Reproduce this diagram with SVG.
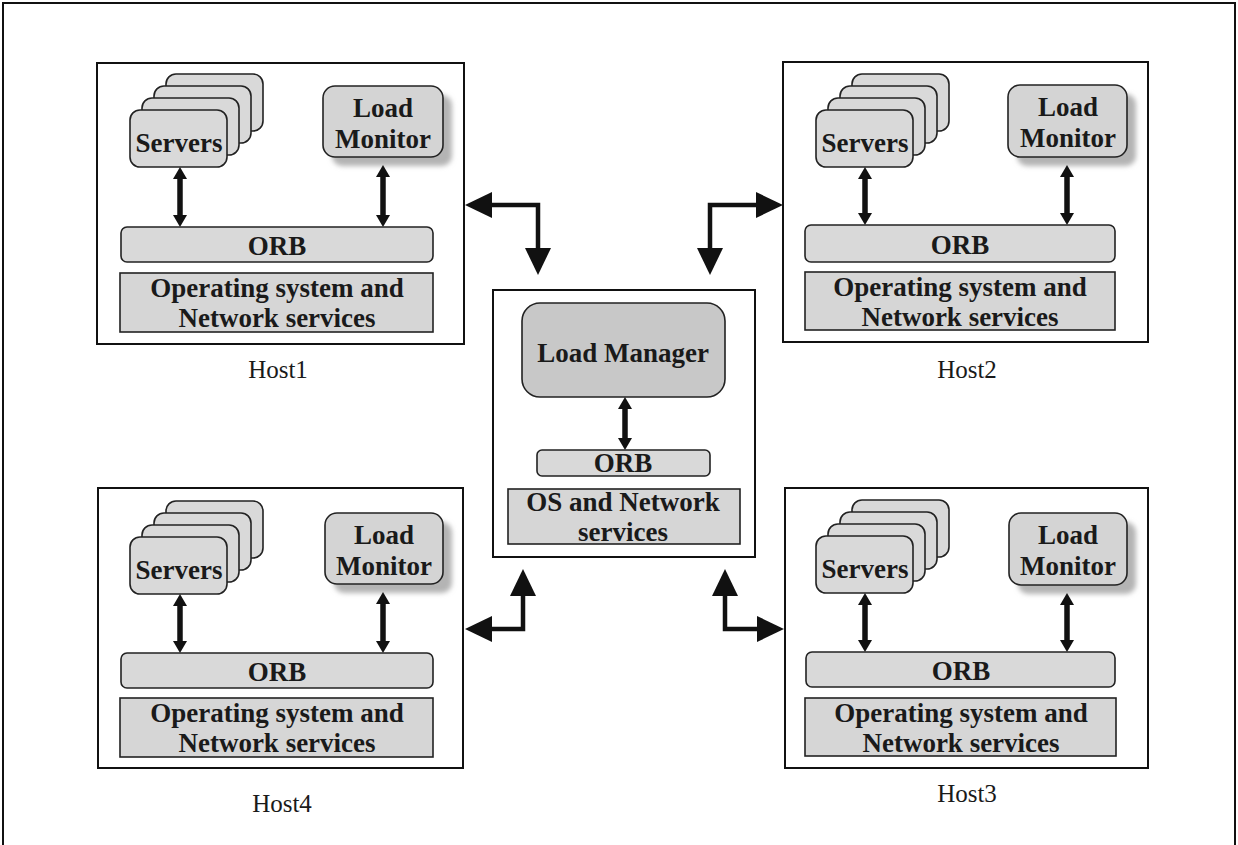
<svg xmlns="http://www.w3.org/2000/svg" width="1238" height="845" viewBox="0 0 1238 845">
  <defs>
    <style>
      .frame { fill: #ffffff; stroke: #111; stroke-width: 2; }
      .card { fill: #d9d9d9; stroke: #222; stroke-width: 1.6; }
      .mon { fill: #d4d4d4; stroke: #222; stroke-width: 1.6; }
      .shadow { fill: #b4b4b4; filter: url(#soft); }
      .orb { fill: #d9d9d9; stroke: #222; stroke-width: 1.6; }
      .os { fill: #d6d6d6; stroke: #222; stroke-width: 1.6; }
      .mgr { fill: #c8c8c8; stroke: #222; stroke-width: 1.6; }
      .lbl { font-family: "Liberation Serif", "Times New Roman", serif; font-weight: bold; font-size: 27px; fill: #1a1a1a; text-anchor: middle; }
      .host { font-family: "Liberation Serif", "Times New Roman", serif; font-size: 25px; fill: #1a1a1a; text-anchor: middle; }
      .link { fill: none; stroke: #111; stroke-width: 4.5; }
      .wire { fill: none; stroke: #111; stroke-width: 5.5; }
    </style>
    <filter id="soft" x="-20%" y="-20%" width="140%" height="140%">
      <feGaussianBlur stdDeviation="2.5"/>
    </filter>
    <marker id="small" viewBox="0 0 12 14" markerWidth="12" markerHeight="14" refX="0" refY="7" orient="auto-start-reverse" markerUnits="userSpaceOnUse">
      <path d="M0,0 L12,7 L0,14 z" fill="#111"/>
    </marker>
    <marker id="big" viewBox="0 0 27 26" markerWidth="27" markerHeight="26" refX="0" refY="13" orient="auto-start-reverse" markerUnits="userSpaceOnUse">
      <path d="M0,0 L27,13 L0,26 z" fill="#111"/>
    </marker>
  </defs>

  <rect id="border" x="3" y="3" width="1232" height="852" fill="#ffffff" stroke="#111" stroke-width="2"/>

  <!-- Host1 -->
  <g id="host1" transform="translate(97,63)">
    <rect class="frame" x="0" y="0" width="367" height="281"/>
    <rect class="card" x="69" y="11" width="97" height="57" rx="10"/>
    <rect class="card" x="57" y="23" width="97" height="57" rx="10"/>
    <rect class="card" x="45" y="35" width="97" height="57" rx="10"/>
    <rect class="card" x="33" y="47" width="97" height="57" rx="10"/>
    <text class="lbl" x="82" y="89">Servers</text>
    <rect class="shadow" x="235" y="32" width="120" height="71" rx="10"/>
    <rect class="mon" x="226" y="23" width="120" height="71" rx="12"/>
    <text class="lbl" x="286" y="54">Load</text>
    <text class="lbl" x="286" y="85">Monitor</text>
    <line class="wire" x1="83" y1="116" x2="83" y2="152" marker-start="url(#small)" marker-end="url(#small)"/>
    <line class="wire" x1="286" y1="114" x2="286" y2="152" marker-start="url(#small)" marker-end="url(#small)"/>
    <rect class="orb" x="24" y="164" width="312" height="35" rx="6"/>
    <text class="lbl" x="180" y="192">ORB</text>
    <rect class="os" x="23" y="210" width="313" height="59"/>
    <text class="lbl" x="180" y="234">Operating system and</text>
    <text class="lbl" x="180" y="264">Network services</text>
  </g>
  <text class="host" x="278" y="378">Host1</text>

  <!-- Host2 -->
  <g id="host2" transform="translate(783,62)">
    <rect class="frame" x="0" y="0" width="365" height="280"/>
    <rect class="card" x="69" y="12" width="97" height="57" rx="10"/>
    <rect class="card" x="57" y="24" width="97" height="57" rx="10"/>
    <rect class="card" x="45" y="36" width="97" height="57" rx="10"/>
    <rect class="card" x="33" y="48" width="97" height="57" rx="10"/>
    <text class="lbl" x="82" y="90">Servers</text>
    <rect class="shadow" x="234" y="32" width="119" height="72" rx="10"/>
    <rect class="mon" x="225" y="23" width="119" height="72" rx="12"/>
    <text class="lbl" x="285" y="54">Load</text>
    <text class="lbl" x="285" y="85">Monitor</text>
    <line class="wire" x1="82" y1="117" x2="82" y2="151" marker-start="url(#small)" marker-end="url(#small)"/>
    <line class="wire" x1="284" y1="115" x2="284" y2="151" marker-start="url(#small)" marker-end="url(#small)"/>
    <rect class="orb" x="22" y="163" width="310" height="37" rx="6"/>
    <text class="lbl" x="177" y="192">ORB</text>
    <rect class="os" x="22" y="210" width="310" height="58"/>
    <text class="lbl" x="177" y="234">Operating system and</text>
    <text class="lbl" x="177" y="264">Network services</text>
  </g>
  <text class="host" x="967" y="378">Host2</text>

  <!-- Host4 -->
  <g id="host4" transform="translate(98,488)">
    <rect class="frame" x="0" y="0" width="365" height="280"/>
    <rect class="card" x="68" y="13" width="97" height="57" rx="10"/>
    <rect class="card" x="56" y="25" width="97" height="57" rx="10"/>
    <rect class="card" x="44" y="37" width="97" height="57" rx="10"/>
    <rect class="card" x="32" y="49" width="97" height="57" rx="10"/>
    <text class="lbl" x="81" y="91">Servers</text>
    <rect class="shadow" x="236" y="34" width="118" height="71" rx="10"/>
    <rect class="mon" x="227" y="25" width="118" height="71" rx="12"/>
    <text class="lbl" x="286" y="56">Load</text>
    <text class="lbl" x="286" y="87">Monitor</text>
    <line class="wire" x1="82" y1="118" x2="82" y2="153" marker-start="url(#small)" marker-end="url(#small)"/>
    <line class="wire" x1="285" y1="116" x2="285" y2="153" marker-start="url(#small)" marker-end="url(#small)"/>
    <rect class="orb" x="23" y="165" width="312" height="35" rx="6"/>
    <text class="lbl" x="179" y="193">ORB</text>
    <rect class="os" x="22" y="210" width="313" height="59"/>
    <text class="lbl" x="179" y="234">Operating system and</text>
    <text class="lbl" x="179" y="264">Network services</text>
  </g>
  <text class="host" x="282" y="812">Host4</text>

  <!-- Host3 -->
  <g id="host3" transform="translate(785,488)">
    <rect class="frame" x="0" y="0" width="363" height="280"/>
    <rect class="card" x="67" y="12" width="97" height="57" rx="10"/>
    <rect class="card" x="55" y="24" width="97" height="57" rx="10"/>
    <rect class="card" x="43" y="36" width="97" height="57" rx="10"/>
    <rect class="card" x="31" y="48" width="97" height="57" rx="10"/>
    <text class="lbl" x="80" y="90">Servers</text>
    <rect class="shadow" x="233" y="34" width="118" height="72" rx="10"/>
    <rect class="mon" x="224" y="25" width="118" height="72" rx="12"/>
    <text class="lbl" x="283" y="56">Load</text>
    <text class="lbl" x="283" y="87">Monitor</text>
    <line class="wire" x1="80" y1="117" x2="80" y2="152" marker-start="url(#small)" marker-end="url(#small)"/>
    <line class="wire" x1="282" y1="117" x2="282" y2="152" marker-start="url(#small)" marker-end="url(#small)"/>
    <rect class="orb" x="21" y="164" width="309" height="35" rx="6"/>
    <text class="lbl" x="176" y="192">ORB</text>
    <rect class="os" x="20" y="210" width="311" height="58"/>
    <text class="lbl" x="176" y="234">Operating system and</text>
    <text class="lbl" x="176" y="264">Network services</text>
  </g>
  <text class="host" x="967" y="802">Host3</text>

  <!-- Central load manager host -->
  <g id="manager">
    <rect class="frame" x="493" y="290" width="262" height="267"/>
    <rect class="mgr" x="522" y="303" width="203" height="94" rx="18"/>
    <text class="lbl" x="623" y="362">Load Manager</text>
    <line class="wire" x1="625" y1="409" x2="625" y2="438" marker-start="url(#small)" marker-end="url(#small)"/>
    <rect class="orb" x="537" y="450" width="173" height="26" rx="5"/>
    <text class="lbl" x="623" y="472">ORB</text>
    <rect class="os" x="508" y="489" width="232" height="55"/>
    <text class="lbl" x="623" y="511">OS and Network</text>
    <text class="lbl" x="623" y="541">services</text>
  </g>

  <!-- Links between hosts and the load manager -->
  <g id="connectors">
    <polyline class="link" points="492,205 538,205 538,248" marker-start="url(#big)" marker-end="url(#big)"/>
    <polyline class="link" points="710,248 710,205 756,205" marker-start="url(#big)" marker-end="url(#big)"/>
    <polyline class="link" points="492,629 523,629 523,596" marker-start="url(#big)" marker-end="url(#big)"/>
    <polyline class="link" points="725,596 725,629 757,629" marker-start="url(#big)" marker-end="url(#big)"/>
  </g>
</svg>
